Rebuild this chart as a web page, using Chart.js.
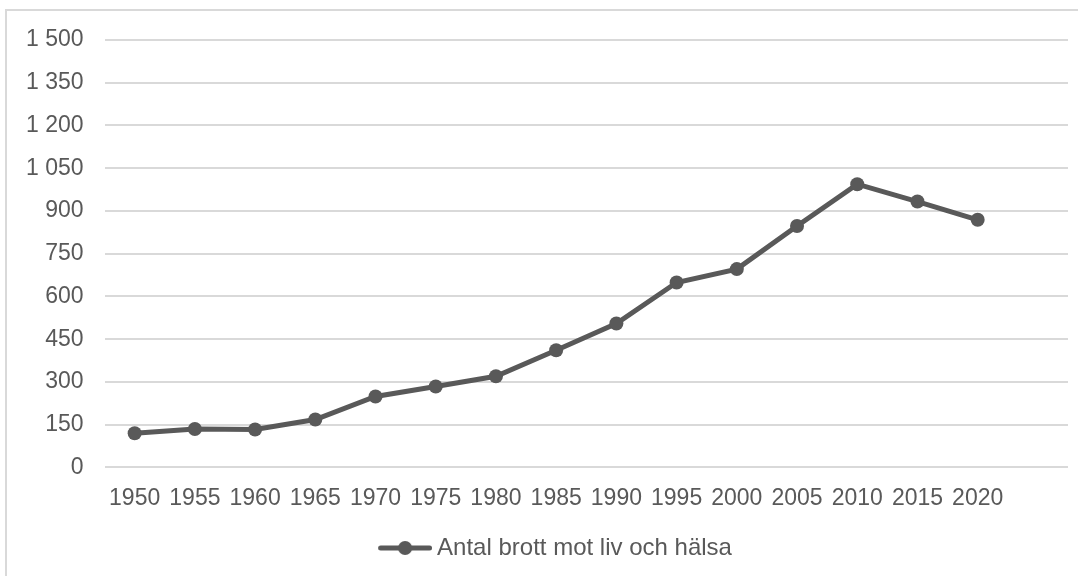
<!DOCTYPE html>
<html>
<head>
<meta charset="utf-8">
<script src="https://cdn.jsdelivr.net/npm/chart.js@4"></script>
<style>
  html, body { margin: 0; padding: 0; background: #fff; overflow: hidden; }
  #frame { position: absolute; left: 5px; top: 9px; width: 1100px; height: 600px; border: 2px solid #d9d9d9; }
  #wrap { position: absolute; left: 0; top: 0; width: 1078px; height: 576px; }
</style>
</head>
<body>
<div id="frame"></div>
<div id="wrap"><canvas id="brottChart"></canvas></div>
<script>
// Årtal (sista kategorin är tom, som i originalet)
const years = ['1950', '1955', '1960', '1965', '1970', '1975', '1980', '1985', '1990', '1995', '2000', '2005', '2010', '2015', '2020', ''];
// Antal brott mot liv och hälsa
const brott = [120, 135, 133, 168, 249, 284, 320, 411, 505, 649, 696, 847, 994, 933, 869, null];
const yTicks = [0, 150, 300, 450, 600, 750, 900, 1050, 1200, 1350, 1500];
const seriesName = 'Antal brott mot liv och hälsa';

const grey = '#595959';
const fontFamily = '"Liberation Sans", Arial, sans-serif';
const fontSize = 23;

// tusentalsavgränsare med mellanslag
function formatNumber(v) {
    return String(v).replace(/\B(?=(\d{3})+(?!\d))/g, ' ');
}

// legendsymbol: linje med punkt (tom marginal till vänster för placeringen)
function legendSymbol() {
    const c = document.createElement('canvas');
    c.width = 98;
    c.height = 16;
    const g = c.getContext('2d');
    g.strokeStyle = grey;
    g.lineWidth = 5;
    g.lineCap = 'round';
    g.beginPath();
    g.moveTo(46.5, 8);
    g.lineTo(95.5, 8);
    g.stroke();
    g.fillStyle = grey;
    g.beginPath();
    g.arc(71, 8, 7, 0, Math.PI * 2);
    g.fill();
    return c;
}

const ctx = document.getElementById('brottChart').getContext('2d');

new Chart(ctx, {
    type: 'line',
    data: {
        labels: years,
        datasets: [{
            label: seriesName,
            data: brott,
            borderColor: grey,
            backgroundColor: grey,
            borderWidth: 5,
            pointRadius: 7,
            pointHoverRadius: 7,
            pointBackgroundColor: grey,
            pointBorderWidth: 0,
            tension: 0,
            fill: false
        }]
    },
    options: {
        responsive: true,
        maintainAspectRatio: false,
        animation: false,
        layout: {
            padding: { left: 5, right: 10, top: 40, bottom: 6 }
        },
        plugins: {
            legend: {
                position: 'bottom',
                labels: {
                    color: grey,
                    font: { family: fontFamily, size: 24 },
                    usePointStyle: true,
                    pointStyleWidth: 84,
                    padding: 15,
                    generateLabels: function(chart) {
                        return [{
                            text: seriesName,
                            pointStyle: legendSymbol(),
                            fillStyle: grey,
                            strokeStyle: grey,
                            lineWidth: 0,
                            fontColor: grey,
                            datasetIndex: 0
                        }];
                    }
                }
            },
            tooltip: { enabled: false }
        },
        scales: {
            x: {
                offset: true,
                grid: { display: false },
                border: { display: false },
                ticks: {
                    color: grey,
                    font: { family: fontFamily, size: fontSize },
                    maxRotation: 0,
                    autoSkip: false,
                    padding: 9
                }
            },
            y: {
                min: 0,
                max: 1500,
                afterBuildTicks: function(axis) {
                    axis.ticks = yTicks.map(v => ({ value: v }));
                },
                grid: { color: '#d9d9d9', lineWidth: 2, drawTicks: false },
                border: { display: false },
                ticks: {
                    color: grey,
                    font: { family: fontFamily, size: fontSize },
                    padding: 21,
                    callback: function(value) {
                        return formatNumber(value);
                    }
                }
            }
        }
    }
});
</script>
</body>
</html>
